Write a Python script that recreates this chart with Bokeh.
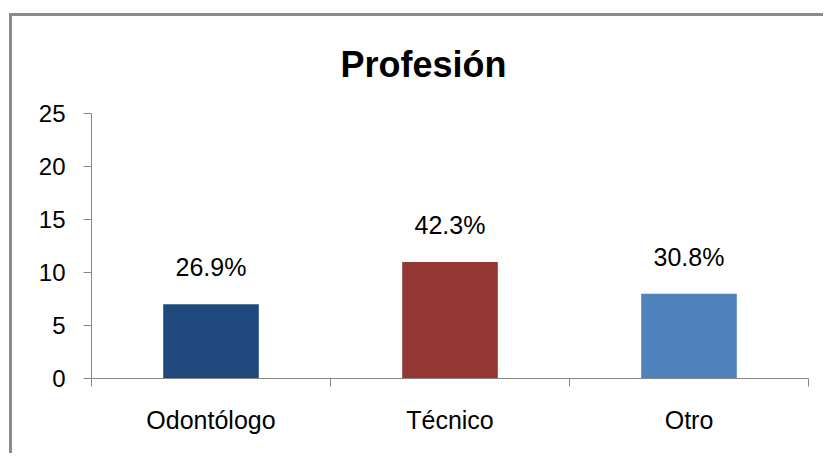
from bokeh.plotting import figure
from bokeh.models import ColumnDataSource, FixedTicker, LinearAxis, Range1d
from bokeh.core.properties import value
from bokeh.embed import file_html
from bokeh.resources import INLINE

title_text = "Profesión"
categories = ["Odontólogo", "Técnico", "Otro"]
counts = [7, 11, 8]
percent_labels = ["26.9%", "42.3%", "30.8%"]
bar_colors = ["#1F497D", "#943634", "#4F81BD"]
y_ticks = [0, 5, 10, 15, 20, 25]

FONT = "Liberation Sans"
AXIS_COLOR = "#868686"

xs = [i + 0.5 for i in range(len(categories))]
src = ColumnDataSource(dict(x=xs, top=counts, color=bar_colors, label=percent_labels))

p = figure(width=814, height=440, output_backend="svg", toolbar_location=None,
           x_range=Range1d(0, len(categories)), y_range=Range1d(0, 25),
           x_axis_type=None, y_axis_type=None,
           min_border_left=79, min_border_right=18, min_border_top=97, min_border_bottom=78)
p.styles = {"box-shadow": "-3px -3px 0 0 #8a8a8a",
            "margin-top": "16px", "margin-left": "12px"}

p.title.text = title_text
p.title.align = "left"
p.title.offset = 249
p.title.vertical_align = "top"
p.title.standoff = 53
p.title.text_font = FONT
p.title.text_font_size = "36px"
p.title.text_font_style = "bold"
p.title.text_color = "#000000"

p.outline_line_color = None
p.xgrid.visible = False
p.ygrid.visible = False
p.background_fill_color = "white"
p.border_fill_color = "white"

p.vbar(x="x", top="top", width=0.40, bottom=0, fill_color="color", line_color=None, source=src)
p.text(x="x", y="top", text="label", source=src, text_align="center",
       text_baseline="alphabetic", y_offset=-37, text_font=value(FONT),
       text_font_size=value("25px"), text_color="#000000")

# y axis
yaxis = LinearAxis(ticker=FixedTicker(ticks=y_ticks, minor_ticks=[]))
yaxis.axis_line_color = AXIS_COLOR
yaxis.major_tick_line_color = AXIS_COLOR
yaxis.major_tick_out = 8
yaxis.major_tick_in = 0
yaxis.major_label_standoff = 18
yaxis.major_label_text_font = FONT
yaxis.major_label_text_font_size = "24px"
yaxis.major_label_text_color = "#000000"
p.add_layout(yaxis, "left")

# x axis: labels at category centres, ticks at boundaries
xaxis = LinearAxis(ticker=FixedTicker(ticks=xs, minor_ticks=list(range(len(categories) + 1))))
xaxis.major_label_overrides = {x: c for x, c in zip(xs, categories)}
xaxis.axis_line_color = AXIS_COLOR
xaxis.major_tick_line_color = None
xaxis.minor_tick_line_color = AXIS_COLOR
xaxis.minor_tick_out = 8
xaxis.minor_tick_in = 0
xaxis.major_tick_out = 8
xaxis.major_label_standoff = 19
xaxis.major_label_text_font = FONT
xaxis.major_label_text_font_size = "25px"
xaxis.major_label_text_color = "#000000"
p.add_layout(xaxis, "below")

open("out.html", "w").write(file_html(p, INLINE))
